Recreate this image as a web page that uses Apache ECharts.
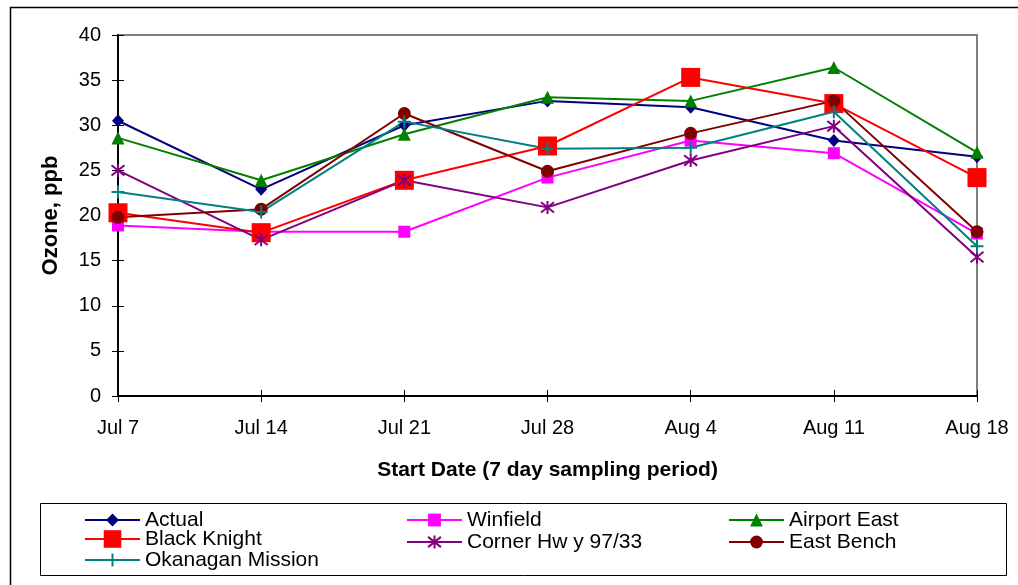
<!DOCTYPE html>
<html>
<head>
<meta charset="utf-8">
<script src="https://cdn.jsdelivr.net/npm/echarts@6/dist/echarts.min.js"></script>
<style>
html,body{margin:0;padding:0;background:#fff;}
#chart{width:1018px;height:585px;}
</style>
</head>
<body>
<div id="chart"></div>
<script>
var categories = ['Jul 7','Jul 14','Jul 21','Jul 28','Aug 4','Aug 11','Aug 18'];
var actual          = [30.5, 22.9, 30.0, 32.7, 32.0, 28.3, 26.5];
var winfield        = [18.9, 18.2, 18.2, 24.2, 28.3, 26.9, 18.0];
var airportEast     = [28.6, 23.9, 29.0, 33.1, 32.7, 36.4, 27.0];
var blackKnight     = [20.3, 18.1, 23.9, 27.7, 35.3, 32.4, 24.2];
var cornerHwy       = [25.0, 17.3, 23.9, 20.9, 26.1, 29.9, 15.4];
var eastBench       = [19.8, 20.7, 31.3, 24.9, 29.1, 32.7, 18.2];
var okanaganMission = [22.6, 20.4, 30.4, 27.4, 27.5, 31.5, 16.6];
var yTicks = {min: 0, max: 40, interval: 5};

var FONT = "'Liberation Sans', Arial, sans-serif";
var STAR = 'path://M0,-1L0,1M-0.8,-0.8L0.8,0.8M-0.8,0.8L0.8,-0.8';
var PLUS = 'path://M-1,0L1,0M0,-1L0,1';

function lineSeries(name, data, color, symbol, size, stroke) {
  var s = {
    name: name, type: 'line', data: data,
    xAxisIndex: 0, yAxisIndex: 0,
    symbol: symbol, symbolSize: size, showAllSymbol: true,
    lineStyle: {color: color, width: 2},
    itemStyle: {color: color},
    emphasis: {disabled: true},
    animation: false
  };
  if (stroke) {
    s.itemStyle = {color: color, borderColor: color, borderWidth: 2};
  }
  return s;
}

var series = [
  lineSeries('Actual', actual, '#000080', 'diamond', [12, 13]),
  lineSeries('Winfield', winfield, '#FF00FF', 'rect', 12),
  lineSeries('Airport East', airportEast, '#008000', 'triangle', 13),
  lineSeries('Black Knight', blackKnight, '#FF0000', 'rect', 19),
  lineSeries('Corner Hw y 97/33', cornerHwy, '#800080', STAR, 13, true),
  lineSeries('East Bench', eastBench, '#800000', 'circle', 13),
  lineSeries('Okanagan Mission', okanaganMission, '#008080', PLUS, 13, true)
];

function leg(name, left, center, h) {
  return {
    data: [name], left: left, top: center - h / 2 - 1,
    orient: 'vertical', padding: 0, itemGap: 0,
    itemWidth: 55, itemHeight: h, selectedMode: false,
    textStyle: {fontFamily: FONT, fontSize: 21, color: '#000', lineHeight: 22}
  };
}

var option = {
  backgroundColor: '#fff',
  animation: false,
  grid: {left: 118, right: 41, top: 35, bottom: 189, show: true,
         borderColor: '#808080', borderWidth: 2, backgroundColor: '#fff'},
  xAxis: [{
    type: 'category', data: categories, boundaryGap: false, position: 'bottom',
    axisLine: {lineStyle: {color: '#000', width: 2}},
    axisTick: {show: true, length: 6, lineStyle: {color: '#000'}},
    axisLabel: {fontFamily: FONT, fontSize: 20, color: '#000', margin: 22},
    splitLine: {show: false},
    name: 'Start Date (7 day sampling period)', nameLocation: 'middle', nameGap: 64,
    nameTextStyle: {fontFamily: FONT, fontSize: 21, fontWeight: 'bold', color: '#000'}
  }, {
    type: 'category', data: categories, boundaryGap: false, position: 'bottom',
    axisLine: {show: false},
    axisTick: {show: true, inside: true, length: 6, lineStyle: {color: '#000'}},
    axisLabel: {show: false}, splitLine: {show: false}
  }],
  yAxis: [{
    type: 'value', min: yTicks.min, max: yTicks.max, interval: yTicks.interval, position: 'left',
    axisLine: {show: true, lineStyle: {color: '#000', width: 2}},
    axisTick: {show: true, length: 6, lineStyle: {color: '#000'}},
    axisLabel: {fontFamily: FONT, fontSize: 20, color: '#000', margin: 17},
    splitLine: {show: false},
    name: 'Ozone, ppb', nameLocation: 'middle', nameGap: 56, nameRotate: 90,
    nameTextStyle: {fontFamily: FONT, fontSize: 22, fontWeight: 'bold', color: '#000'}
  }, {
    type: 'value', min: yTicks.min, max: yTicks.max, interval: yTicks.interval, position: 'left',
    axisLine: {show: false},
    axisTick: {show: true, inside: true, length: 6, lineStyle: {color: '#000'}},
    axisLabel: {show: false}, splitLine: {show: false}
  }],
  legend: [
    leg('Actual', 84, 518, 16),
    leg('Black Knight', 84, 540, 22),
    leg('Okanagan Mission', 84, 558, 16),
    leg('Winfield', 406, 518, 16),
    leg('Corner Hw y 97/33', 406, 540, 16),
    leg('Airport East', 728, 518, 16),
    leg('East Bench', 728, 540, 16)
  ],
  graphic: [
    {type: 'rect', left: 8, top: 5, silent: true, z: -10,
     shape: {x: 0, y: 0, width: 1040, height: 620},
     style: {fill: 'none', stroke: '#000', lineWidth: 1.5}},
    {type: 'rect', left: 40, top: 503, silent: true, z: -10,
     shape: {x: 0, y: 0, width: 966, height: 72},
     style: {fill: '#fff', stroke: '#000', lineWidth: 1}}
  ],
  series: series
};

var chart = echarts.init(document.getElementById('chart'), null, {renderer: 'canvas'});
chart.setOption(option);
</script>
</body>
</html>
